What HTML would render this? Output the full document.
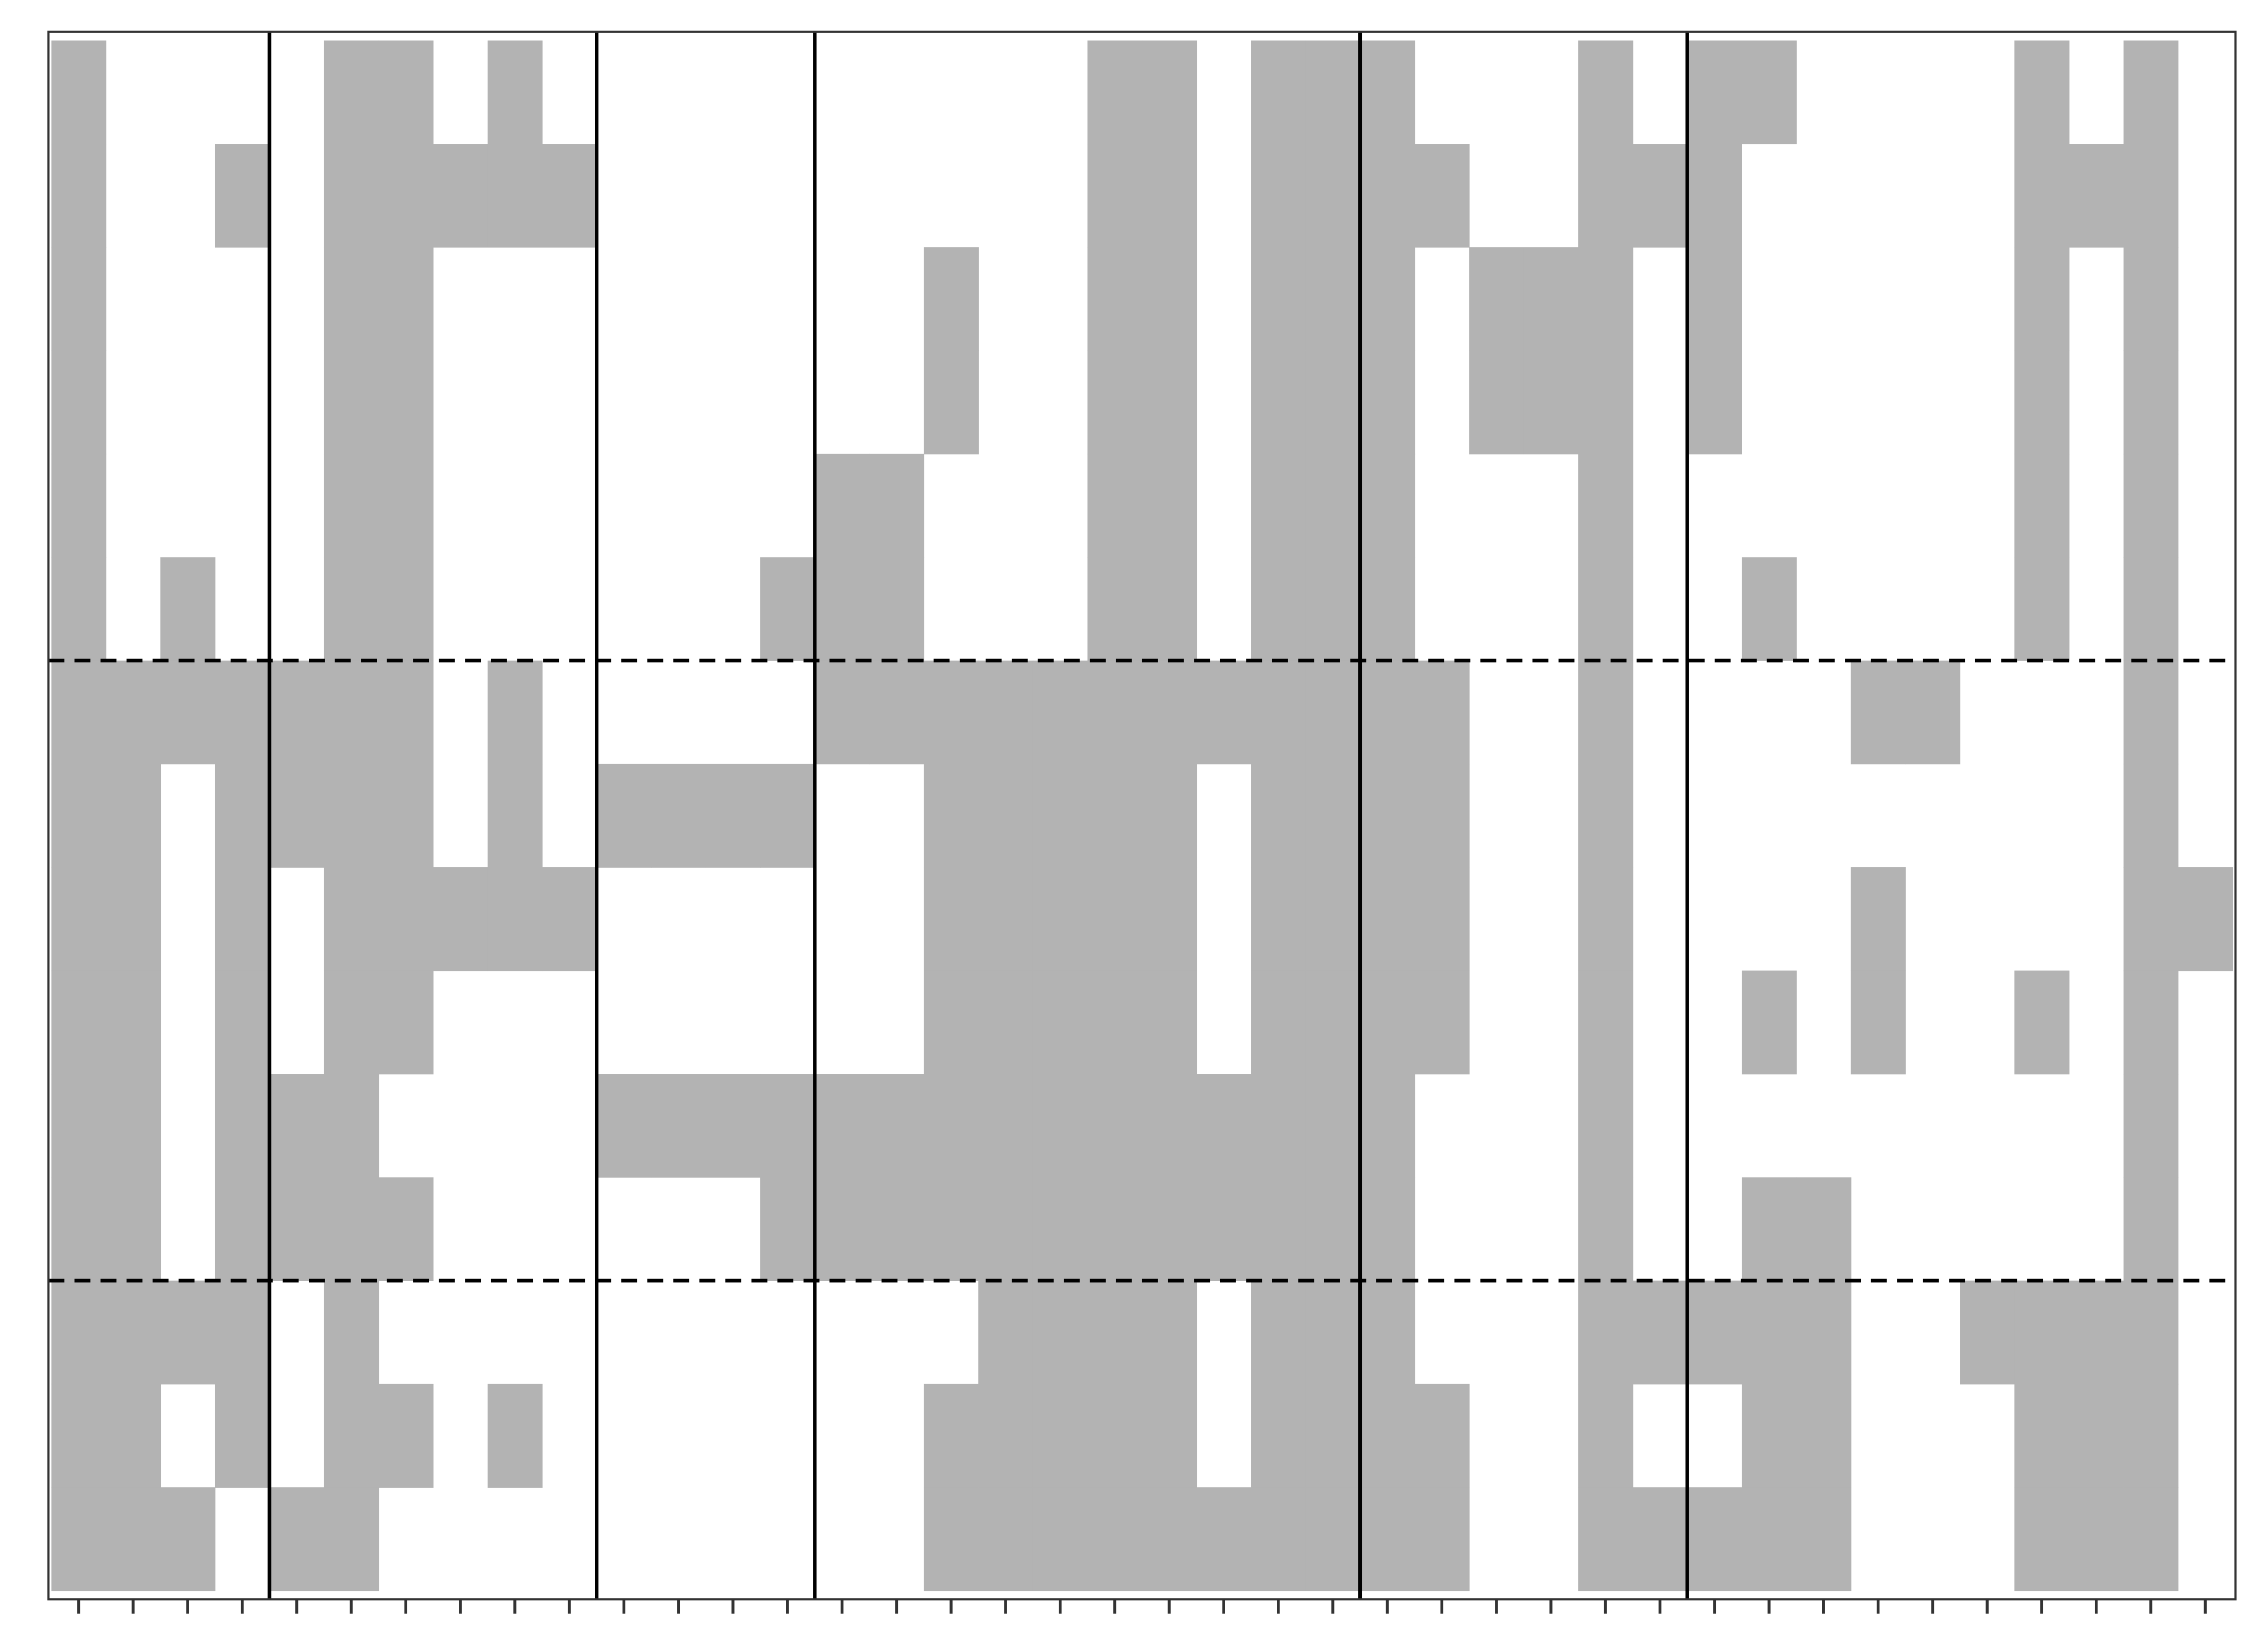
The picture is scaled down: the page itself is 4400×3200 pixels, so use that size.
<!DOCTYPE html>
<html><head><meta charset="utf-8"><style>html,body{margin:0;padding:0;background:#fff}svg{display:block}</style></head>
<body>
<svg id="chart" width="4400" height="3200" viewBox="0 0 1568 1140.4" preserveAspectRatio="none" xmlns="http://www.w3.org/2000/svg">
<rect x="0" y="0" width="1568" height="1140.4" fill="#fff"/>
<g id="cells"></g>
<g id="seps"></g>
<rect x="33.5" y="22" width="1512" height="1084" fill="none" stroke="#333" stroke-width="1.5"/>
<g id="ticks"></g>
</svg>
<script>
const rowsData = [
["0","5-6","8","19-20","22-24","28","30-31","36","38"],
["0","3","5-9","19-20","22-25","28-30","36-38"],
["0","5-6","16","19-20","22-24","26-28","30","36","38"],
["0","5-6","16","19-20","22-24","26-28","30","36","38"],
["0","5-6","14-15","19-20","22-24","28","36","38"],
["0","2","5-6","13-15","19-20","22-24","28","31","36","38"],
["0-6","8","14-25","28","33-34","38"],
["0-1","3-6","8","10-13","16-20","22-25","28","38"],
["0-1","3","5-9","16-20","22-25","28","33","38-39"],
["0-1","3","5-6","16-20","22-25","28","31","33","36","38"],
["0-1","3-5","10-24","28","38"],
["0-1","3-6","13-24","28","31-32","38"],
["0-3","5","17-20","22-24","28-32","35-38"],
["0-1","3","5-6","8","16-20","22-25","28","31-32","36-38"],
["0-2","4-5","16-25","28-32","36-38"]
];
const vSeps = [4, 10, 14, 24, 30];
const hSeps = [6, 12];
const nCols = 40, nRows = 15;
const x0 = 35.5, cw = 37.7, y0 = 28, rh = 71.47;
function xs(c){ return x0 + c*cw; }
function ys(r){ return y0 + r*rh; }
const NS = "http://www.w3.org/2000/svg";
const cells = document.getElementById('cells');
rowsData.forEach((row, r) => {
  row.forEach(tok => {
    const p = tok.split('-').map(Number);
    const a = p[0], b = p.length > 1 ? p[1] : p[0];
    for (let c = a; c <= b; c++) {
      const el = document.createElementNS(NS, 'rect');
      el.setAttribute('x', xs(c)); el.setAttribute('y', ys(r));
      el.setAttribute('width', cw + 0.3); el.setAttribute('height', rh + 0.3);
      el.setAttribute('fill', '#b3b3b3');
      
      
      cells.appendChild(el);
    }
  });
});
const seps = document.getElementById('seps');
vSeps.forEach(c => {
  const l = document.createElementNS(NS, 'line');
  l.setAttribute('x1', xs(c)); l.setAttribute('x2', xs(c));
  l.setAttribute('y1', 22); l.setAttribute('y2', 1106);
  l.setAttribute('stroke', '#000'); l.setAttribute('stroke-width', 2.5);
  
  
  seps.appendChild(l);
});
hSeps.forEach(r => {
  const l = document.createElementNS(NS, 'line');
  l.setAttribute('x1', 33.5); l.setAttribute('x2', 1545.5);
  l.setAttribute('y1', ys(r)); l.setAttribute('y2', ys(r));
  l.setAttribute('stroke', '#000'); l.setAttribute('stroke-width', 2.5);
  l.setAttribute('stroke-dasharray', '11 7');
  
  
  seps.appendChild(l);
});
const ticks = document.getElementById('ticks');
for (let c = 0; c < nCols; c++) {
  const t = document.createElementNS(NS, 'line');
  const x = xs(c) + cw/2;
  t.setAttribute('x1', x); t.setAttribute('x2', x);
  t.setAttribute('y1', 1106); t.setAttribute('y2', 1116);
  t.setAttribute('stroke', '#333'); t.setAttribute('stroke-width', 2);
  
  
  ticks.appendChild(t);
}
</script>
</body></html>
